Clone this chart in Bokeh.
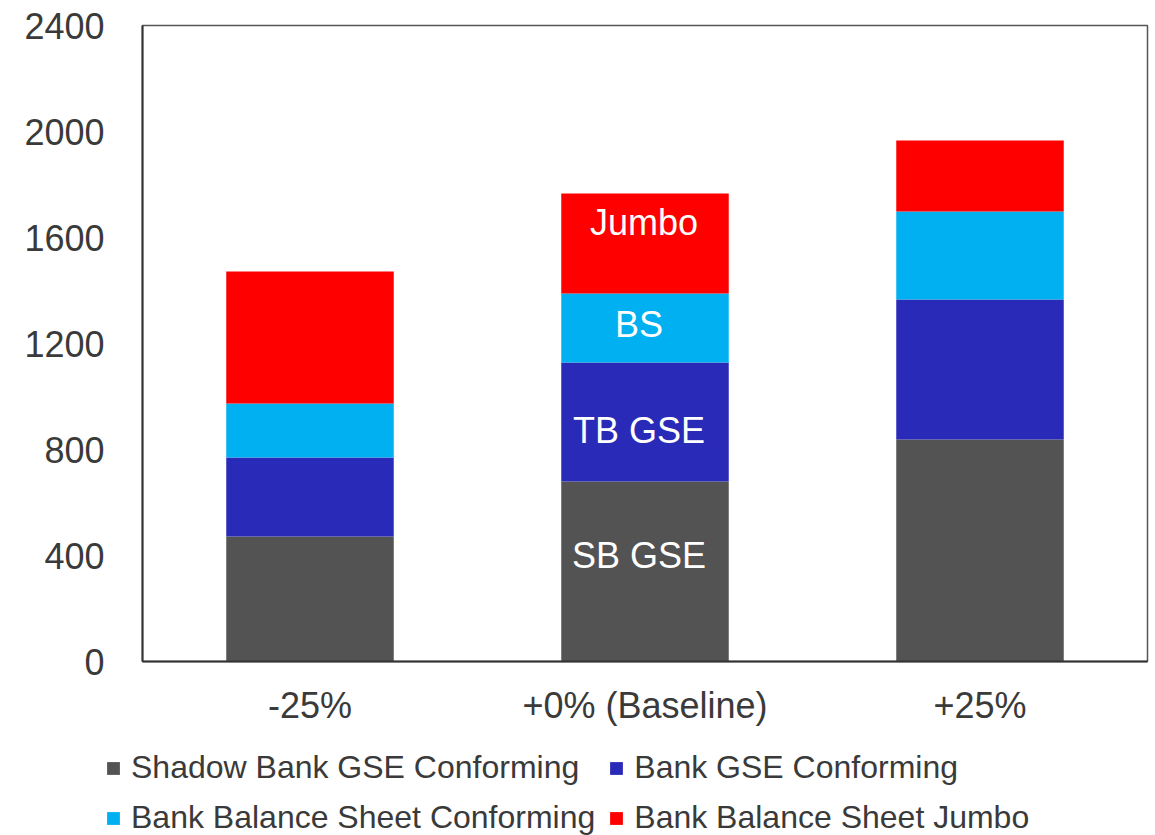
from bokeh.plotting import figure
from bokeh.models import ColumnDataSource, FactorRange, Legend, LegendItem, FixedTicker
from bokeh.layouts import column
from bokeh.embed import file_html
from bokeh.resources import INLINE
from bokeh.core.properties import value

categories = ["-25%", "+0% (Baseline)", "+25%"]
shadow_bank_gse = [472, 679, 838]
bank_gse = [298, 449, 528]
bank_bs_conforming = [204, 261, 332]
bank_bs_jumbo = [498, 377, 268]
series_names = ["Shadow Bank GSE Conforming", "Bank GSE Conforming",
                "Bank Balance Sheet Conforming", "Bank Balance Sheet Jumbo"]
segment_labels = ["SB GSE", "TB GSE", "BS", "Jumbo"]
y_ticks = [0, 400, 800, 1200, 1600, 2000, 2400]

colors = ["#535353", "#2A2AB8", "#00B0F0", "#FF0000"]
keys = ["sb", "tb", "bs", "jb"]
FONT = "Liberation Sans"
TXT = "#3a3a3a"

src = ColumnDataSource(dict(x=categories, sb=shadow_bank_gse, tb=bank_gse,
                            bs=bank_bs_conforming, jb=bank_bs_jumbo))

p = figure(x_range=FactorRange(*categories, range_padding=0), y_range=(0, 2400),
           width=1155, height=735, output_backend="svg",
           toolbar_location=None, min_border_left=142, min_border_right=8,
           min_border_top=25, min_border_bottom=74)

rs = p.vbar_stack(keys, x="x", width=0.5, color=colors, source=src,
                  line_color=None)

# segment labels on the baseline bar (computed from data)
bi = 1
vals = [shadow_bank_gse[bi], bank_gse[bi], bank_bs_conforming[bi], bank_bs_jumbo[bi]]
mids = []
acc = 0
for v in vals:
    mids.append(acc + v / 2)
    acc += v
lab_src = ColumnDataSource(dict(x=[categories[bi]] * 4, y=mids, t=segment_labels,
                                yo=[-16, 8, -3, -21], xo=[-6, -6, -6, -1]))
p.text(x="x", y="y", text="t", source=lab_src, x_offset="xo", y_offset="yo",
       text_color="white", text_font=value(FONT), text_font_size="36px",
       text_align="center", text_baseline="middle")

p.xgrid.grid_line_color = None
p.ygrid.grid_line_color = None
p.outline_line_color = "#555555"
p.outline_line_width = 1.5

for ax in (p.xaxis[0], p.yaxis[0]):
    ax.axis_line_color = "#333333"
    ax.axis_line_width = 2
    ax.major_tick_line_color = None
    ax.minor_tick_line_color = None
    ax.major_label_text_font = FONT
    ax.major_label_text_font_size = "36px"
    ax.major_label_text_color = TXT

p.yaxis[0].ticker = FixedTicker(ticks=y_ticks)
p.yaxis[0].major_label_standoff = 32
p.xaxis[0].major_label_standoff = 17

# legend figure below the chart
lf = figure(width=1155, height=100, x_range=(0, 1), y_range=(0, 1),
            output_backend="svg", toolbar_location=None,
            min_border=0, outline_line_color=None)
lf.axis.visible = False
lf.grid.visible = False
for fig in (p, lf):
    if "frame_align" in fig.properties():
        fig.frame_align = False

# legend swatches (kept outside the visible range of the legend figure)
swatch_src = ColumnDataSource(dict(x=[5], top=[5]))
dummy = [lf.vbar(x="x", top="top", width=1, color=c, line_color=None, source=swatch_src)
         for c in colors]

# column-major fill: col 1 = items 0 and 2, col 2 = items 1 and 3
order = [0, 2, 1, 3]
legend = Legend(items=[LegendItem(label=series_names[i], renderers=[dummy[i]]) for i in order],
                location=(105, -1), ncols=2, padding=0, margin=0,
                border_line_color=None, background_fill_alpha=0,
                glyph_width=16, glyph_height=16, label_standoff=10,
                label_height=32, spacing=13,
                label_text_font=FONT, label_text_font_size="32px",
                label_text_color=TXT)
lf.add_layout(legend, "center")

open("out.html", "w").write(file_html(column(p, lf, spacing=0), INLINE))
